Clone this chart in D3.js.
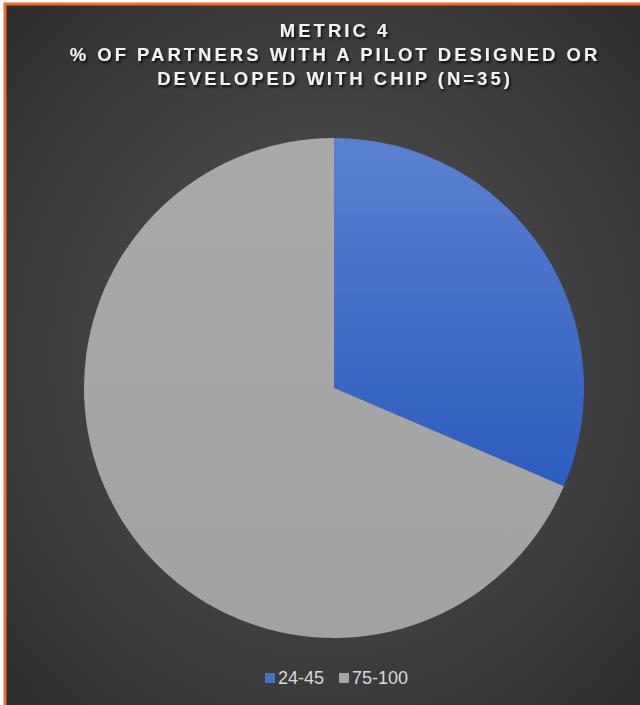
<!DOCTYPE html>
<html><head><meta charset="utf-8">
<script src="https://cdn.jsdelivr.net/npm/d3@7"></script>
<style>html,body{margin:0;padding:0;background:#fff;}svg{display:block;}</style>
</head><body>
<script>
const categories = ["24-45", "75-100"];
const values = [11, 24];
const colors = ["#4472c4", "#a5a5a5"];
const titleLines = ["METRIC 4", "% OF PARTNERS WITH A PILOT DESIGNED OR", "DEVELOPED WITH CHIP (N=35)"];

const W = 640, H = 705;
const svg = d3.select("body").append("svg").attr("width", W).attr("height", H);
const defs = svg.append("defs");
const bg = defs.append("radialGradient").attr("id","bg").attr("cx","50%").attr("cy","50%").attr("r","70%");
bg.append("stop").attr("offset","0%").attr("stop-color","#565656");
bg.append("stop").attr("offset","100%").attr("stop-color","#2e2e2e");
const bl = defs.append("linearGradient").attr("id","blue").attr("x1","0").attr("y1","0").attr("x2","0").attr("y2","1");
bl.append("stop").attr("offset","0%").attr("stop-color","#5b81d1");
bl.append("stop").attr("offset","100%").attr("stop-color","#2b5cc0");
const gr = defs.append("linearGradient").attr("id","gray").attr("x1","0").attr("y1","0").attr("x2","0").attr("y2","1");
gr.append("stop").attr("offset","0%").attr("stop-color","#a9a9a9");
gr.append("stop").attr("offset","100%").attr("stop-color","#a2a2a2");
const sh = defs.append("filter").attr("id","sh").attr("x","-10%").attr("y","-30%").attr("width","120%").attr("height","160%");
sh.append("feDropShadow").attr("dx",1.5).attr("dy",2).attr("stdDeviation",1.2).attr("flood-color","#000").attr("flood-opacity",0.8);

svg.append("rect").attr("x",0).attr("y",0).attr("width",W).attr("height",H).attr("fill","#fff");
svg.append("rect").attr("x",5).attr("y",4).attr("width",W).attr("height",H).attr("fill","url(#bg)")
  .attr("stroke","#ed6d2a").attr("stroke-width",3);

const tg = svg.append("g").attr("filter","url(#sh)");
titleLines.forEach((t,i)=>{
  tg.append("text").attr("x",335).attr("y",37 + i*24).attr("text-anchor","middle")
    .attr("font-family","Liberation Sans, Arial, sans-serif").attr("font-weight","bold")
    .attr("font-size",18.5).attr("letter-spacing","3px").attr("fill","#f2f2f2").text(t);
});

const cx = 334, cy = 388, R = 250;
const pie = d3.pie().sort(null).value(d=>d)(values);
const arc = d3.arc().innerRadius(0).outerRadius(R);
const fills = ["url(#blue)", "url(#gray)"];
const pg = svg.append("g").attr("transform",`translate(${cx},${cy})`);
pg.selectAll("path").data(pie).enter().append("path")
  .attr("d", arc).attr("fill",(d,i)=>fills[i]).attr("stroke","none");

const color = d3.scaleOrdinal().domain(categories).range(colors);
const lg = svg.append("g").attr("font-family","Liberation Sans, Arial, sans-serif").attr("font-size",18).attr("fill","#d9d9d9");
const items = [{x:265},{x:339}];
categories.forEach((c,i)=>{
  lg.append("rect").attr("x",items[i].x).attr("y",673).attr("width",10).attr("height",10).attr("fill",color(c));
  lg.append("text").attr("x",items[i].x+13).attr("y",684).text(c);
});
</script>
</body></html>
